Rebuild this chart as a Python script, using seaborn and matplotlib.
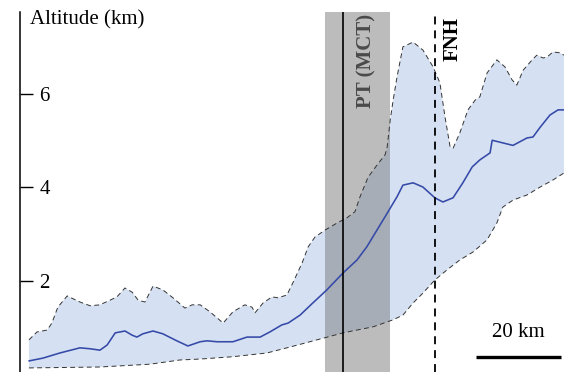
import numpy as np
import matplotlib
matplotlib.use("Agg")
import matplotlib.pyplot as plt
import seaborn as sns

# Distance along profile (km) and altitude (km)
upper_x = [2.1, 4.0, 6.4, 7.5, 8.9, 11.1, 14.1, 16.5, 18.8, 21.2, 22.8, 24.7, 26.4, 27.8, 29.4,
           31.3, 33.6, 36.0, 38.8, 40.5, 42.4, 44.7, 47.8, 50.1, 52.9, 54.6, 55.3, 57.2, 59.3,
           60.7, 62.8, 64.2, 66.4, 67.8, 69.4, 71.8, 74.6, 76.9, 78.8, 80.0, 81.9, 84.0, 85.9,
           86.4, 87.1, 87.8, 88.7, 90.1, 92.5, 94.8, 97.2, 98.8, 100.0, 101.2, 101.9, 103.5,
           105.4, 107.1, 108.2, 109.9, 112.2, 114.1, 115.8, 116.9, 118.4, 120.5, 121.6, 123.1,
           124.0, 125.4, 127.1, 128.0]
upper_alt = [0.74, 0.91, 0.95, 1.10, 1.44, 1.68, 1.55, 1.47, 1.49, 1.59, 1.66, 1.85, 1.76, 1.59,
             1.55, 1.89, 1.81, 1.64, 1.42, 1.49, 1.49, 1.34, 1.10, 1.34, 1.49, 1.44, 1.32, 1.53,
             1.66, 1.64, 1.70, 1.96, 2.39, 2.73, 2.94, 3.09, 3.24, 3.35, 3.48, 3.80, 4.22, 4.48,
             4.70, 4.87, 5.44, 5.87, 6.36, 7.01, 7.11, 6.94, 6.58, 6.24, 5.51, 4.87, 4.84, 5.17,
             5.66, 5.87, 5.94, 6.45, 6.73, 6.58, 6.30, 6.19, 6.51, 6.73, 6.83, 6.77, 6.79, 6.90,
             6.88, 6.83]

lower_x = [2.1, 18.8, 30.6, 37.6, 42.4, 50.1, 58.1, 62.8, 68.2, 76.0, 83.1, 87.8, 90.1, 92.5,
           94.8, 97.6, 100.5, 103.5, 106.6, 109.9, 112.2, 113.6, 116.0, 119.3, 122.4, 125.4, 128.0]
lower_alt = [0.14, 0.16, 0.22, 0.31, 0.33, 0.38, 0.46, 0.57, 0.70, 0.89, 1.02, 1.17, 1.27, 1.53,
             1.74, 2.02, 2.24, 2.45, 2.62, 2.88, 3.24, 3.58, 3.73, 3.84, 4.01, 4.16, 4.31]

mean_x = [2.1, 5.4, 9.4, 14.1, 16.5, 18.8, 20.5, 22.4, 24.7, 26.4, 27.5, 28.9, 31.3, 33.6, 36.9,
          39.5, 42.4, 44.0, 46.4, 50.1, 53.4, 56.5, 58.8, 61.6, 63.1, 65.9, 68.9, 72.2, 76.0,
          79.3, 81.6, 84.0, 86.4, 88.7, 90.1, 92.5, 94.8, 97.6, 99.5, 101.9, 104.2, 106.4,
          108.2, 110.6, 111.1, 112.9, 116.0, 119.3, 120.7, 122.4, 124.7, 126.6, 128.0]
mean_alt = [0.29, 0.35, 0.46, 0.57, 0.55, 0.52, 0.63, 0.89, 0.93, 0.84, 0.80, 0.87, 0.93, 0.87,
            0.72, 0.61, 0.70, 0.72, 0.70, 0.70, 0.80, 0.80, 0.91, 1.06, 1.10, 1.27, 1.53, 1.81,
            2.17, 2.45, 2.73, 3.09, 3.45, 3.80, 4.05, 4.10, 4.01, 3.78, 3.69, 3.78, 4.10, 4.44,
            4.59, 4.74, 5.01, 4.97, 4.90, 5.06, 5.08, 5.29, 5.55, 5.66, 5.66]

# Structures along the profile (km)
pt_zone = (71.8, 87.1)
pt_trace = 76.0
fnh_trace = 97.6
pt_label = "PT (MCT)"
fnh_label = "FNH"
yticks = [2, 4, 6]
scale_start, scale_len = 107.3, 20
scale_label = "20 km"
ylabel = "Altitude (km)"

sns.set_theme(style="white")
plt.rcParams["font.family"] = ["Liberation Serif", "DejaVu Serif"]

W, H = 564, 372
fig = plt.figure(figsize=(W / 100, H / 100), dpi=100)
ax = fig.add_axes([20 / W, 0, 544 / W, 360 / H])
ax.set_xlim(0, 128)
ax.set_ylim(0.053, 7.754)

fill_col = "#d5e1f2"
line_col = "#3549a8"

# Envelope between minimum and maximum altitude
ax.fill(np.concatenate([upper_x, lower_x[::-1]]),
        np.concatenate([upper_alt, lower_alt[::-1]]),
        color=fill_col, lw=0, zorder=1)

# Shear zone band
ax.axvspan(*pt_zone, color=(120 / 255, 120 / 255, 120 / 255), alpha=0.49, lw=0, zorder=2)

sns.lineplot(x=upper_x, y=upper_alt, ax=ax, color="#333333", lw=0.7,
             linestyle=(0, (5, 3.5)), zorder=3)
sns.lineplot(x=lower_x, y=lower_alt, ax=ax, color="#333333", lw=0.7,
             linestyle=(0, (5, 3.5)), zorder=3)
sns.lineplot(x=mean_x, y=mean_alt, ax=ax, color=line_col, lw=1.15, zorder=4,
             solid_joinstyle="round")

ax.axvline(pt_trace, color="black", lw=1.2, zorder=5)
ax.axvline(fnh_trace, color="black", lw=1.3, linestyle=(0, (4.4, 3.3)), zorder=5)

for s in ["top", "right", "bottom"]:
    ax.spines[s].set_visible(False)
ax.spines["left"].set_color("black")
ax.spines["left"].set_linewidth(1.1)
ax.set_xticks([])
ax.set_yticks(yticks)
ax.set_yticklabels([str(t) for t in yticks])
ax.tick_params(axis="y", direction="in", length=9, width=1.0, color="black",
               pad=-21.6, labelsize=15, labelcolor="black", left=True)
ax.grid(False)

def fx(px):
    return px / W

def fy(py):
    return 1 - py / H

fig.text(fx(30), fy(20), ylabel, fontsize=15, ha="left", va="center", color="black")
fig.text(fx(366), fy(61), pt_label, fontsize=15, fontweight="bold", rotation=90,
         ha="center", va="center", color="#4a4a4a")
fig.text(fx(453), fy(39), fnh_label, fontsize=15, fontweight="bold", rotation=90,
         ha="center", va="center", color="black")

# Scale bar
trans = ax.get_xaxis_transform()
bar_y = (H - 357) / 360
ax.plot([scale_start, scale_start + scale_len], [bar_y, bar_y], transform=trans,
        color="black", lw=2.4, solid_capstyle="butt", clip_on=False, zorder=6)
ax.text(scale_start + scale_len / 2, bar_y + 15 / 360, scale_label, transform=trans,
        ha="center", va="bottom", fontsize=15, color="black")

fig.savefig("out.png", dpi=100)
